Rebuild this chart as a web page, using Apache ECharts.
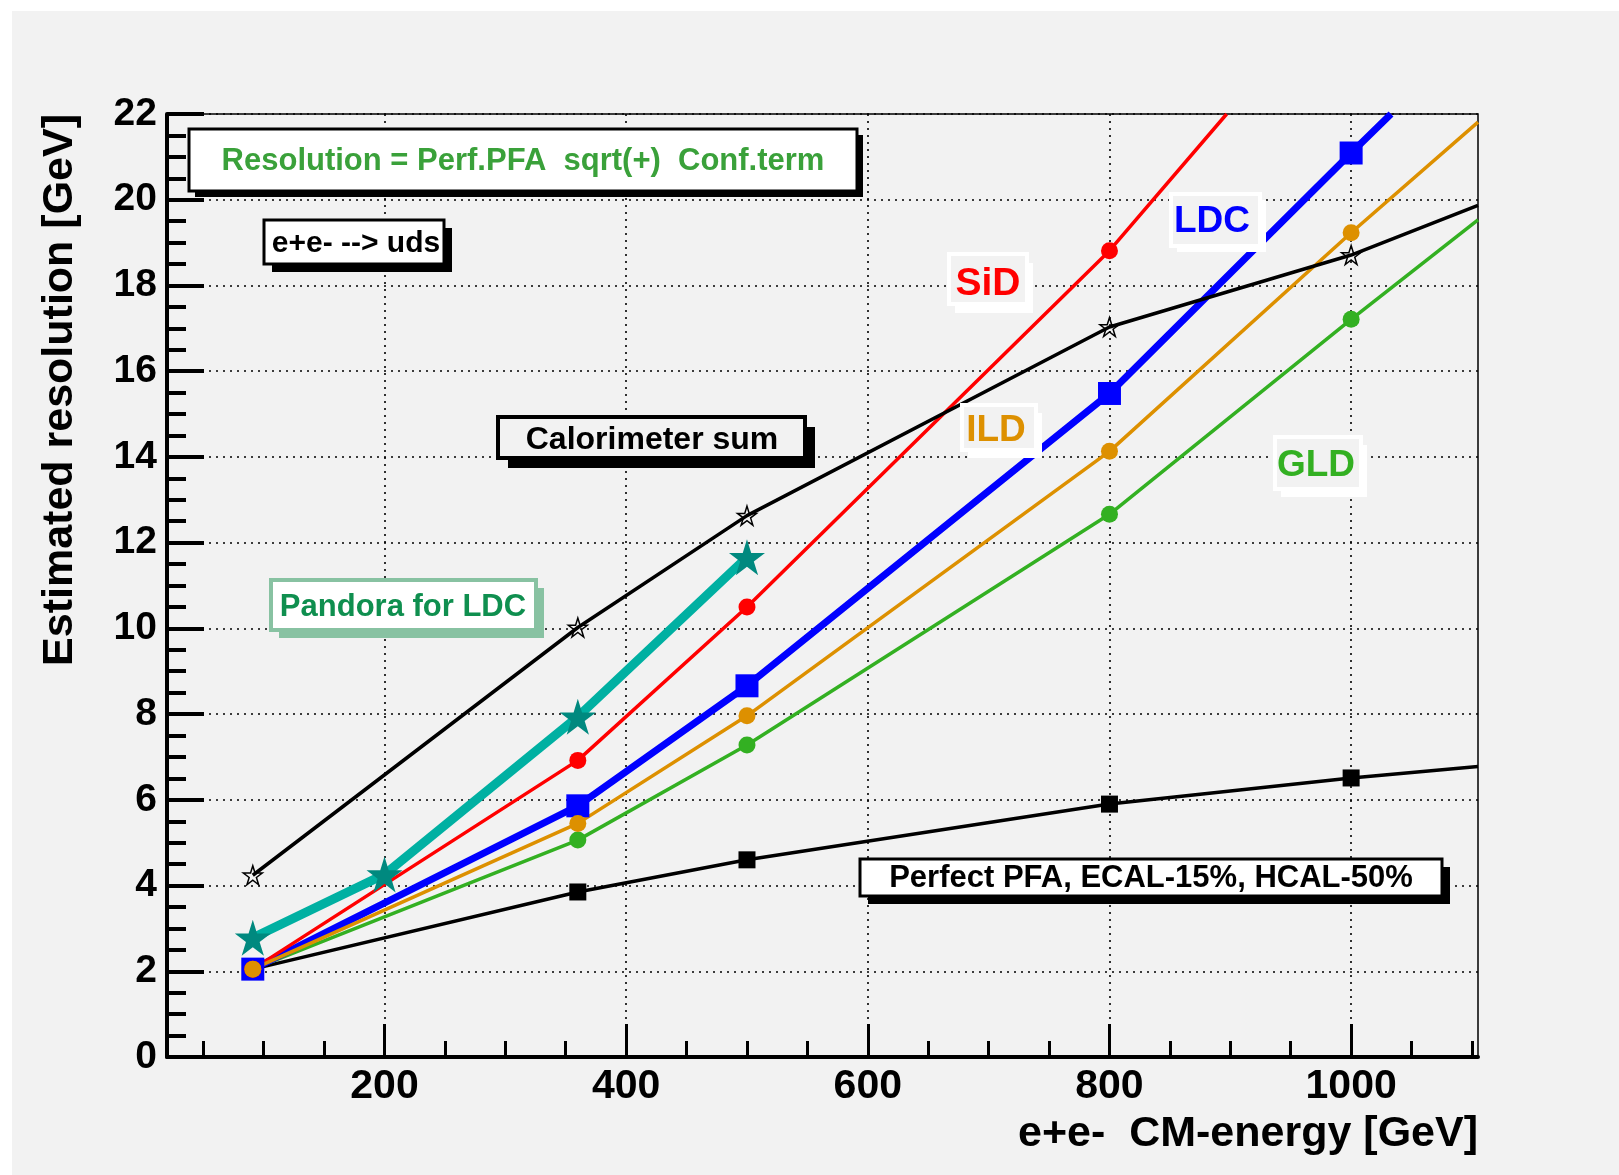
<!DOCTYPE html>
<html>
<head>
<meta charset="utf-8">
<script src="https://cdn.jsdelivr.net/npm/echarts@6/dist/echarts.min.js"></script>
<style>
  html, body { margin:0; padding:0; background:#ffffff; width:1619px; height:1175px; overflow:hidden; }
  #bg { position:absolute; left:12px; top:11px; right:0; bottom:0; background:#f2f2f2; }
  #chart { position:absolute; left:0; top:0; width:1619px; height:1175px; }
</style>
</head>
<body>
<div id="bg"></div>
<div id="chart"></div>
<script>
// ---- data ----
const xMajorTicks = [200, 400, 600, 800, 1000];
const xMinorTicks = [50, 100, 150, 200, 250, 300, 350, 400, 450, 500, 550, 600, 650, 700, 750, 800, 850, 900, 950, 1000, 1050, 1100];

const perfX = [91, 360, 500, 800, 1000, 1105];
const perfY = [2.05, 3.85, 4.60, 5.90, 6.51, 6.78];
const caloX = [91, 360, 500, 800, 1000, 1105];
const caloY = [4.24, 10.02, 12.63, 17.03, 18.71, 19.87];
const pandX = [91, 200, 360, 500];
const pandY = [2.78, 4.26, 7.94, 11.66];
const sidX = [91, 360, 500, 800, 897];
const sidY = [2.05, 6.92, 10.50, 18.81, 22.0];
const ldcX = [91, 360, 500, 800, 1000, 1033];
const ldcY = [2.05, 5.86, 8.66, 15.48, 21.09, 22.0];
const ildX = [91, 360, 500, 800, 1000, 1105];
const ildY = [2.05, 5.45, 7.96, 14.13, 19.23, 21.81];
const gldX = [91, 360, 500, 800, 1000, 1105];
const gldY = [2.05, 5.06, 7.28, 12.66, 17.21, 19.53];

const X_MIN = 20, X_MAX = 1105, Y_MIN = 0, Y_MAX = 22;

const FONT = "'Liberation Sans', Arial, Helvetica, sans-serif";
const STAR = 'path://M50 0 L61.17 34.63 L97.55 34.55 L68.07 55.87 L79.39 90.45 L50 69 L20.61 90.45 L31.93 55.87 L2.45 34.55 L38.83 34.63 Z';

function pts(xs, ys) {
  return xs.map((x, i) => {
    const edge = x >= X_MAX || ys[i] >= Y_MAX;
    return edge ? { value: [x, ys[i]], symbolSize: 0 } : [x, ys[i]];
  });
}

function lineSeries(name, xs, ys, color, width, symbol, size, itemStyle) {
  return {
    name, type: 'line', data: pts(xs, ys), xAxisIndex: 0, yAxisIndex: 0,
    clip: true, symbol, symbolSize: size, showAllSymbol: true,
    lineStyle: { color, width },
    itemStyle: Object.assign({ color, borderWidth: 0 }, itemStyle || {}),
    emphasis: { disabled: true }, animation: false
  };
}

const chart = echarts.init(document.getElementById('chart'), null, { renderer: 'canvas' });

function box(x, y, w, h, opts) {
  const els = [];
  els.push({ type: 'rect', shape: { x: x + opts.sx, y: y + opts.sy, width: w, height: h },
    style: { fill: opts.shadow, stroke: null }, z: 10 });
  els.push({ type: 'rect', shape: { x, y, width: w, height: h },
    style: { fill: opts.fill, stroke: opts.stroke, lineWidth: opts.lw }, z: 11 });
  els.push({ type: 'text', x: opts.tx, y: opts.ty, z: 12,
    style: { text: opts.text, fill: opts.color, font: 'bold ' + opts.fs + 'px ' + FONT,
      align: 'center', verticalAlign: 'middle', textAlign: 'center', textVerticalAlign: 'middle' } });
  return els;
}

const graphics = [].concat(
  box(189, 129, 668, 62, { sx: 6, sy: 6, shadow: '#000', fill: '#ffffff', stroke: '#000', lw: 3,
    text: 'Resolution = Perf.PFA  sqrt(+)  Conf.term', color: '#3aa13a', fs: 31, tx: 523, ty: 161 }),
  box(264, 220, 180, 44, { sx: 8, sy: 8, shadow: '#000', fill: '#ffffff', stroke: '#000', lw: 3,
    text: 'e+e- --> uds', color: '#000', fs: 30, tx: 356, ty: 244 }),
  box(498, 417, 307, 41, { sx: 10, sy: 10, shadow: '#000', fill: '#f2f2f2', stroke: '#000', lw: 4,
    text: 'Calorimeter sum', color: '#000', fs: 32, tx: 652, ty: 440 }),
  box(271, 580, 265, 50, { sx: 8, sy: 8, shadow: '#88c2a2', fill: '#ffffff', stroke: '#88c2a2', lw: 4,
    text: 'Pandora for LDC', color: '#0f8f4f', fs: 31, tx: 403, ty: 607 }),
  box(860, 859, 582, 37, { sx: 8, sy: 8, shadow: '#000', fill: '#ffffff', stroke: '#000', lw: 3,
    text: 'Perfect PFA, ECAL-15%, HCAL-50%', color: '#000', fs: 31, tx: 1151, ty: 878 }),
  box(949, 254, 78, 50, { sx: 6, sy: 9, shadow: '#ffffff', fill: '#f2f2f2', stroke: '#ffffff', lw: 4,
    text: 'SiD', color: '#ff0000', fs: 39, tx: 988, ty: 284 }),
  box(1171, 194, 89, 52, { sx: 6, sy: 6, shadow: '#ffffff', fill: '#f2f2f2', stroke: '#ffffff', lw: 4,
    text: 'LDC', color: '#0000ff', fs: 37, tx: 1212, ty: 222 }),
  box(962, 405, 74, 45, { sx: 6, sy: 8, shadow: '#ffffff', fill: '#f2f2f2', stroke: '#ffffff', lw: 4,
    text: 'ILD', color: '#dd9000', fs: 37, tx: 996, ty: 431 }),
  box(1275, 437, 86, 52, { sx: 6, sy: 8, shadow: '#ffffff', fill: '#f2f2f2', stroke: '#ffffff', lw: 4,
    text: 'GLD', color: '#33b022', fs: 37, tx: 1316, ty: 466 }),
  [
    { type: 'text', x: 60, y: 114, rotation: Math.PI / 2, z: 12,
      style: { text: 'Estimated resolution [GeV]', fill: '#000', font: 'bold 43px ' + FONT,
        align: 'right', verticalAlign: 'middle', textAlign: 'right', textVerticalAlign: 'middle' } },
    { type: 'text', x: 1478, y: 1134, z: 12,
      style: { text: 'e+e-  CM-energy [GeV]', fill: '#000', font: 'bold 43px ' + FONT,
        align: 'right', verticalAlign: 'middle', textAlign: 'right', textVerticalAlign: 'middle' } }
  ]
);

const dotted = { color: '#000', width: 1.6, type: [2, 5] };

const option = {
  backgroundColor: 'transparent',
  animation: false,
  grid: { left: 167, right: 141, top: 114, bottom: 118, show: true, borderColor: '#000', borderWidth: 1.5,
    backgroundColor: 'transparent', containLabel: false },
  xAxis: [
    { type: 'value', min: X_MIN, max: X_MAX, position: 'bottom',
      axisLine: { show: true, onZero: false, lineStyle: { color: '#000', width: 4 } },
      axisTick: { show: true, inside: true, length: 33, customValues: xMajorTicks, lineStyle: { color: '#000', width: 3 } },
      axisLabel: { show: true, customValues: xMajorTicks, formatter: v => String(v), color: '#000', fontSize: 41, fontWeight: 'bold', fontFamily: FONT, margin: 9 },
      splitLine: { show: true, lineStyle: dotted },
      minorTick: { show: false }
    },
    { type: 'value', min: X_MIN, max: X_MAX, position: 'bottom',
      axisLine: { show: false, onZero: false },
      axisTick: { show: true, inside: true, length: 16, customValues: xMinorTicks, lineStyle: { color: '#000', width: 3 } },
      axisLabel: { show: false },
      splitLine: { show: false }
    }
  ],
  yAxis: [
    { type: 'value', min: Y_MIN, max: Y_MAX, interval: 2, position: 'left',
      axisLine: { show: true, onZero: false, lineStyle: { color: '#000', width: 4 } },
      axisTick: { show: true, inside: true, length: 37, lineStyle: { color: '#000', width: 4 } },
      minorTick: { show: true, splitNumber: 4, length: 19, lineStyle: { color: '#000', width: 4 } },
      axisLabel: { color: '#000', fontSize: 39, fontWeight: 'bold', fontFamily: FONT, margin: 10, formatter: v => String(v) },
      splitLine: { show: true, lineStyle: dotted }
    }
  ],
  graphic: { elements: graphics },
  series: [
    lineSeries('Pandora for LDC', pandX, pandY, '#00b0a2', 9, STAR, 36, { color: '#00897f' }),
    lineSeries('Perfect PFA', perfX, perfY, '#000000', 3.5, 'rect', 17),
    lineSeries('GLD', gldX, gldY, '#33b022', 3.5, 'circle', 17),
    lineSeries('LDC', ldcX, ldcY, '#0000ff', 7, 'rect', 23),
    lineSeries('SiD', sidX, sidY, '#ff0000', 3.5, 'circle', 17),
    lineSeries('ILD', ildX, ildY, '#dd9000', 3.5, 'circle', 17),
    lineSeries('Calorimeter sum', caloX, caloY, '#000000', 3.5, STAR, 19,
      { color: 'rgba(0,0,0,0)', borderColor: '#000', borderWidth: 1.5 })
  ]
};
chart.setOption(option);
</script>
</body>
</html>
